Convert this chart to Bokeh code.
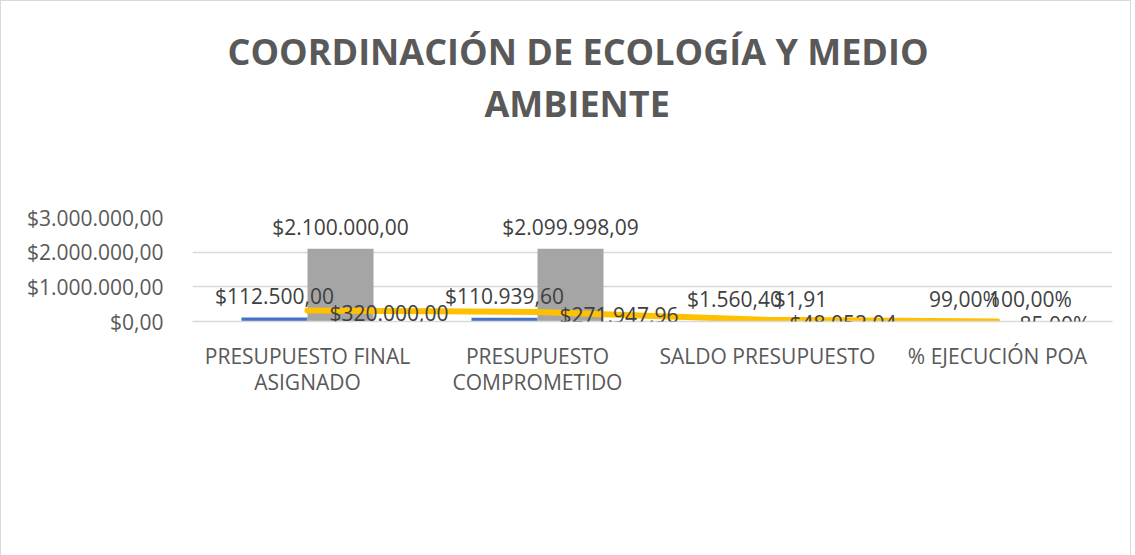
from bokeh.plotting import figure
from bokeh.models import (ColumnDataSource, FactorRange, Range1d, FixedTicker,
                          LabelSet, Legend, LegendItem, Title, LinearAxis)
from bokeh.transform import dodge
from bokeh.core.properties import value
from bokeh.embed import file_html
from bokeh.resources import INLINE

# ---------------- data ----------------
categories = ["PRESUPUESTO FINAL\nASIGNADO", "PRESUPUESTO\nCOMPROMETIDO",
              "SALDO PRESUPUESTO", "% EJECUCIÓN POA"]
series_names = ["Dirección de Ambiente, Riesgos y Fauna Urbana",
                "Dirección de Higiene y Salubridad",
                "Dirección de Parques, Áreas Verdes y Espacios"]
ambiente = [112500.00, 110939.60, 1560.40, 0.99]
higiene = [2100000.00, 2099998.09, 1.91, 1.00]
parques = [320000.00, 271947.96, 48052.04, 0.85]
ambiente_labels = ["$112.500,00", "$110.939,60", "$1.560,40", "99,00%"]
higiene_labels = ["$2.100.000,00", "$2.099.998,09", "$1,91", "100,00%"]
parques_labels = ["$320.000,00", "$271.947,96", "$48.052,04", "85,00%"]
y_ticks = [0, 1000000, 2000000, 3000000]
y_tick_labels = ["$0,00", "$1.000.000,00", "$2.000.000,00", "$3.000.000,00"]
title_line1 = "COORDINACIÓN DE ECOLOGÍA Y MEDIO"
title_line2 = "AMBIENTE"

FONT = "Open Sans"
BLUE = "#4472C4"
GRAY = "#A5A5A5"
GOLD = "#FFC000"

src = ColumnDataSource(dict(cat=categories, amb=ambiente, hig=higiene, par=parques,
                            amb_l=ambiente_labels, hig_l=higiene_labels, par_l=parques_labels))

p = figure(x_range=FactorRange(*categories, range_padding=0, factor_padding=0),
           y_range=Range1d(0, 3000000),
           frame_width=920, frame_height=104,
           output_backend="svg", toolbar_location=None,
           min_border_left=191, min_border_right=18, min_border_top=216,
           min_border_bottom=0)
p.styles = {"border": "1px solid #d9d9d9"}
p.outline_line_color = None
p.background_fill_color = "white"
p.border_fill_color = "white"

# spacer between the title and the plot area (an invisible axis above)
spacer = LinearAxis(ticker=FixedTicker(ticks=[0]), major_label_overrides={0: ""},
                    axis_line_color=None, major_tick_line_color=None,
                    minor_tick_line_color=None, major_tick_in=0, major_tick_out=90,
                    minor_tick_out=0, major_label_standoff=0,
                    major_label_text_font_size="1px")
p.add_layout(spacer, "above")

# title (two lines, centred)
title_kw = dict(text_font=FONT, text_font_size="36px", text_font_style="bold",
                text_color="#595959", align="left")
p.title.text = title_line1
p.title.align = "left"
p.title.offset = 35
p.title.text_font = FONT
p.title.text_font_size = "36px"
p.title.text_font_style = "bold"
p.title.text_color = "#595959"
p.title.standoff = 2
p.add_layout(Title(text=title_line2, offset=292, standoff=0, **title_kw), "above")

# axes
p.xgrid.visible = False
p.ygrid.grid_line_color = "#d9d9d9"
p.ygrid.grid_line_width = 1.5
p.yaxis.ticker = FixedTicker(ticks=y_ticks)
p.yaxis.major_label_overrides = dict(zip(y_ticks, y_tick_labels))
p.yaxis.axis_line_color = None
p.yaxis.major_tick_line_color = None
p.yaxis.minor_tick_line_color = None
p.yaxis.major_tick_out = 0
p.yaxis.major_label_standoff = 29
p.yaxis.major_label_text_font = FONT
p.yaxis.major_label_text_font_size = "21px"
p.yaxis.major_label_text_color = "#595959"

xax = p.below[0]
xax.axis_line_color = "#d9d9d9"
xax.axis_line_width = 1.5
xax.major_tick_line_color = None
xax.major_tick_out = 0
xax.major_label_standoff = 20
xax.major_label_text_font = FONT
xax.major_label_text_font_size = "21px"
xax.major_label_text_color = "#595959"
xax.major_label_text_line_height = 0.95

# glyphs
BW = 0.287
r_amb = p.vbar(x=dodge("cat", -BW / 2, range=p.x_range), top="amb", width=BW,
               source=src, fill_color=BLUE, line_color=None)
r_hig = p.vbar(x=dodge("cat", BW / 2, range=p.x_range), top="hig", width=BW,
               source=src, fill_color=GRAY, line_color=None)
r_par = p.line(x="cat", y="par", source=src, line_color=GOLD, line_width=6,
               line_cap="round", line_join="round")

lab_kw = dict(source=src, text_font=value(FONT), text_font_size="21px", text_color="#404040")
p.add_layout(LabelSet(x=dodge("cat", -BW / 2, range=p.x_range), y="amb", text="amb_l",
                      text_align="center", text_baseline="bottom", y_offset=8, **lab_kw))
p.add_layout(LabelSet(x=dodge("cat", BW / 2, range=p.x_range), y="hig", text="hig_l",
                      text_align="center", text_baseline="bottom", y_offset=8, **lab_kw))
p.add_layout(LabelSet(x="cat", y="par", text="par_l",
                      text_align="left", text_baseline="middle", x_offset=22, y_offset=-3, **lab_kw))

legend = Legend(items=[LegendItem(label=series_names[0], renderers=[r_amb]),
                       LegendItem(label=series_names[1], renderers=[r_hig]),
                       LegendItem(label=series_names[2], renderers=[r_par])],
                location="top_center", orientation="vertical",
                border_line_color=None, background_fill_alpha=0,
                label_text_font=FONT, label_text_font_size="21px",
                label_text_color="#595959",
                glyph_width=58, glyph_height=12, label_height=20, label_width=615,
                spacing=15, label_standoff=5, padding=0, margin=12)
p.add_layout(legend, "below")

open("out.html", "w").write(file_html(p, INLINE))
